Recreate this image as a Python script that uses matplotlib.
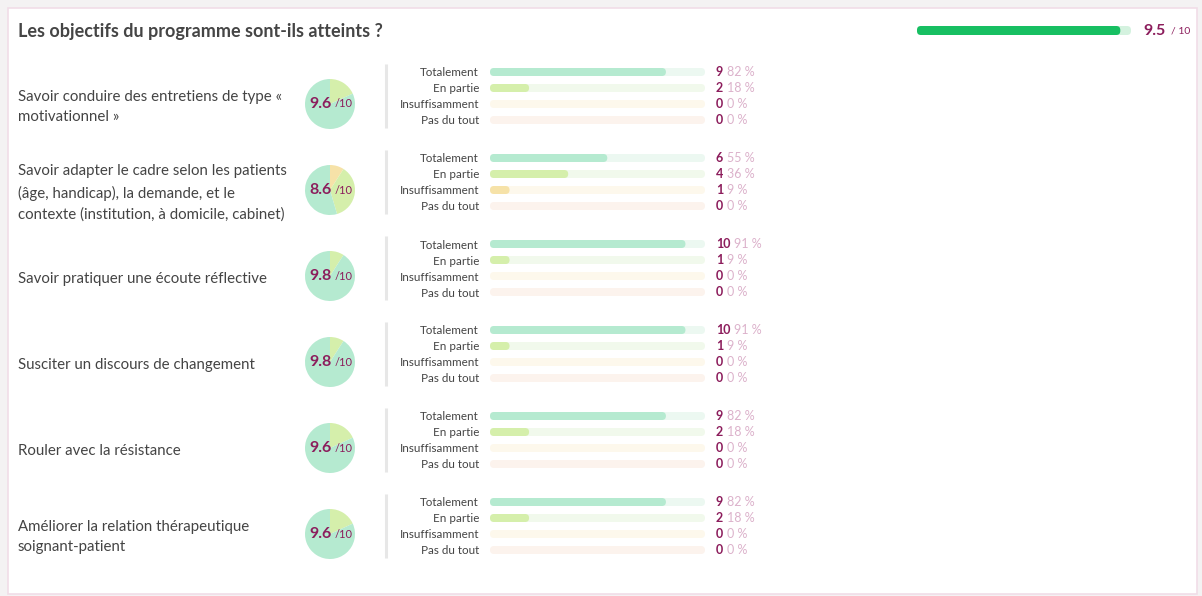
import matplotlib.pyplot as plt
from matplotlib.patches import Rectangle, FancyBboxPatch

plt.rcParams['font.family'] = ['Lato', 'DejaVu Sans']

# data
title = 'Les objectifs du programme sont-ils atteints ?'
global_score = 9.5
objectives = [
    'Savoir conduire des entretiens de type «\nmotivationnel »',
    'Savoir adapter le cadre selon les patients\n(âge, handicap), la demande, et le\ncontexte (institution, à domicile, cabinet)',
    'Savoir pratiquer une écoute réflective',
    'Susciter un discours de changement',
    'Rouler avec la résistance',
    'Améliorer la relation thérapeutique\nsoignant-patient',
]
answers = ['Totalement', 'En partie', 'Insuffisamment', 'Pas du tout']
counts = [
    [9, 2, 0, 0],
    [6, 4, 1, 0],
    [10, 1, 0, 0],
    [10, 1, 0, 0],
    [9, 2, 0, 0],
    [9, 2, 0, 0],
]
percents = [
    [82, 18, 0, 0],
    [55, 36, 9, 0],
    [91, 9, 0, 0],
    [91, 9, 0, 0],
    [82, 18, 0, 0],
    [82, 18, 0, 0],
]
scores = [9.6, 8.6, 9.8, 9.8, 9.6, 9.6]

# styles
fill_cols = ['#b5ead0', '#d5efab', '#f6e2a8', '#f8d0b8']
track_cols = ['#ecf8f1', '#f1f9ec', '#fdf8ec', '#fcf3ed']
purple = '#8c1d5c'
pink = '#dcb2cb'
txt = '#444444'

W, H = 1202, 596
fig = plt.figure(figsize=(W / 100, H / 100), dpi=100)
fig.patch.set_facecolor('#f4f2f3')

bg = fig.add_axes([0, 0, 1, 1])
bg.set_xlim(0, W)
bg.set_ylim(H, 0)
bg.axis('off')
bg.add_patch(Rectangle((8, 8), 1189, 586, facecolor='white', edgecolor='#f1dde7', lw=1.2))

bg.text(18, 31, title, fontsize=13, fontweight='bold', color='#454545', va='center')


def px_axes(x0, y0, w, h):
    return fig.add_axes([x0 / W, 1 - (y0 + h) / H, w / W, h / H])


def round_bars(ax, bars, px_x, px_y, r_px):
    # swap plain bar rectangles for rounded ones of the same extent
    rx = r_px / px_x
    aspect = px_x / px_y
    for b in bars:
        x, y, w, h = b.get_x(), b.get_y(), b.get_width(), b.get_height()
        fc = b.get_facecolor()
        b.remove()
        if w <= 0:
            continue
        ax.add_patch(FancyBboxPatch((x, y), w, h, boxstyle=f'round,pad=0,rounding_size={min(rx, w / 2)}',
                                    mutation_aspect=aspect, fc=fc, lw=0))


# global score bar
gax = px_axes(917, 26, 214, 9)
gb1 = gax.barh([0], [10], height=1, color='#d4f2df')
gb2 = gax.barh([0], [global_score], height=1, color='#17bf62')
gax.set_xlim(0, 10)
gax.set_ylim(-0.5, 0.5)
gax.axis('off')
round_bars(gax, list(gb1) + list(gb2), 21.4, 9, 4)
t = bg.text(1143, 31, f'{global_score:.1f}', fontsize=11.5, fontweight='bold', color=purple, va='center')
bg.annotate('/ 10', xy=(1, 0.5), xycoords=t, xytext=(4, 0), textcoords='offset points',
            fontsize=7.5, color=purple, va='center')

row0, step = 96, 86
for i, (obj, c, p, s) in enumerate(zip(objectives, counts, percents, scores)):
    ry = row0 + i * step
    total = sum(c)

    bg.text(18, ry + 11, obj, fontsize=10.8, color=txt, va='center', linespacing=1.62)

    # pie
    pax = px_axes(305, ry + 8 - 25, 50, 50)
    order = list(range(len(answers)))[::-1]
    pax.pie([c[k] for k in order], colors=[fill_cols[k] for k in order],
            startangle=90, counterclock=False, wedgeprops=dict(linewidth=0))
    pax.set_xlim(-1, 1)
    pax.set_ylim(-1, 1)
    st = pax.text(0.06, 0, f'{s:.1f}', fontsize=11.5, fontweight='bold', color=purple,
                  ha='right', va='center')
    pax.annotate('/10', xy=(1, 0.5), xycoords=st, xytext=(2, 0), textcoords='offset points',
                 fontsize=8, color=purple, va='center')

    # separator
    bg.plot([386, 386], [ry - 32, ry + 32], color='#e7e7e7', lw=2.2, solid_capstyle='butt')

    # bars
    bax = px_axes(490, ry - 32, 215, 64)
    ypos = list(range(len(answers)))
    tr = bax.barh(ypos, [total] * len(answers), height=0.5, color=track_cols)
    fl = bax.barh(ypos, c, height=0.5, color=fill_cols)
    bax.set_xlim(0, total)
    bax.set_ylim(3.5, -0.5)
    round_bars(bax, list(tr) + list(fl), 215 / total, 16, 4)
    for sp in bax.spines.values():
        sp.set_visible(False)
    bax.set_xticks([])
    bax.set_yticks(ypos)
    bax.set_yticklabels(answers, fontsize=8.4, color=txt)
    bax.tick_params(axis='y', length=0, pad=8)
    for k in ypos:
        ct = bax.text(total * 1.05, k, str(c[k]), fontsize=9, fontweight='bold', color=purple,
                      va='center', ha='left')
        bax.annotate(f'{p[k]} %', xy=(1, 0.5), xycoords=ct, xytext=(3, 0), textcoords='offset points',
                     fontsize=9, color=pink, va='center')

fig.savefig('out.png', dpi=100, facecolor=fig.get_facecolor())
